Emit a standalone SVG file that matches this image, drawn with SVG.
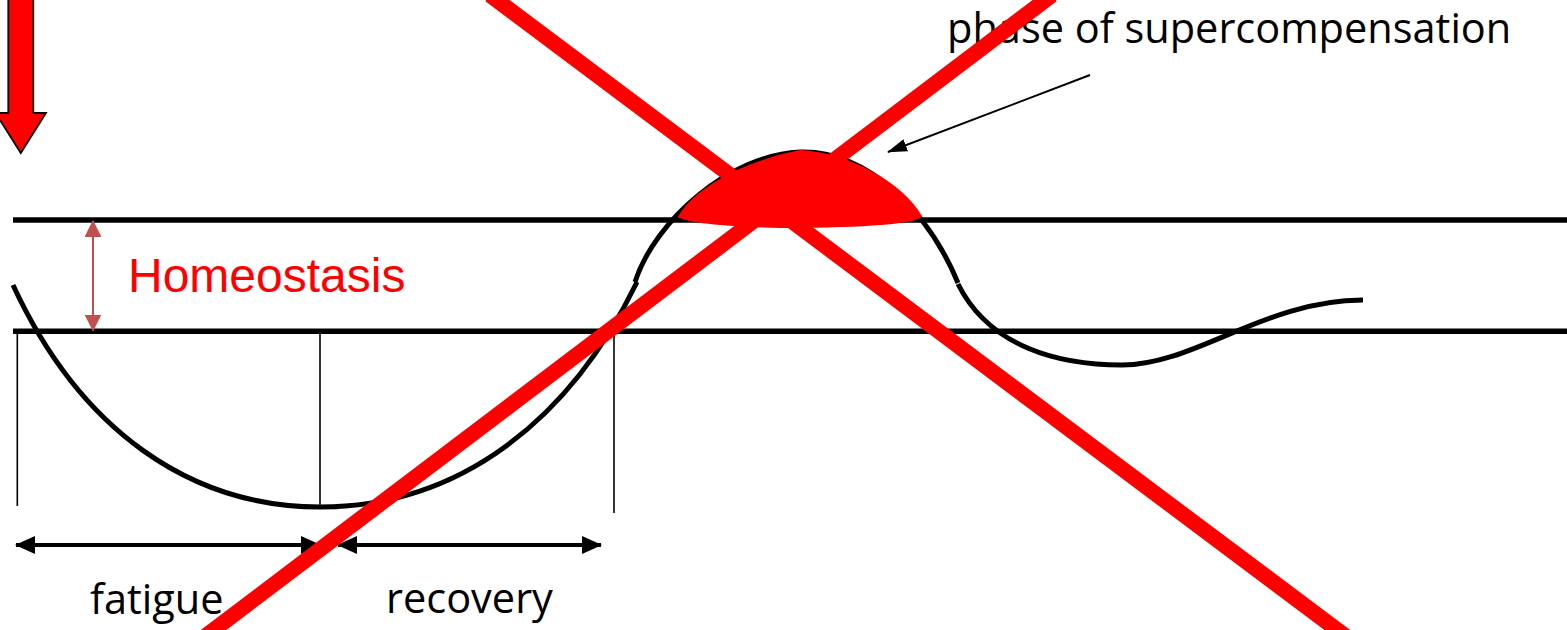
<svg xmlns="http://www.w3.org/2000/svg" width="1567" height="630" viewBox="0 0 1567 630">
<style>
.lbl{font-family:"Open Sans","Liberation Sans",sans-serif;font-size:41.5px;fill:#000}
.hline{stroke:#000;stroke-width:5.4;fill:none}
.vline{stroke:#000;stroke-width:1.6;fill:none}
.curve{stroke:#000;stroke-width:5;fill:none}
.span{stroke:#000;stroke-width:4;fill:none}
.cross{stroke:#FF0000;stroke-width:15.5;fill:none}
</style>
<defs>
<marker id="bh" viewBox="0 0 20 18" refX="19" refY="9" markerWidth="20" markerHeight="18" markerUnits="userSpaceOnUse" orient="auto-start-reverse">
<path d="M0,0 L20,9 L0,18 Z" fill="#000"/>
</marker>
<marker id="rh" viewBox="0 0 17 17" refX="16" refY="8.5" markerWidth="17" markerHeight="17" markerUnits="userSpaceOnUse" orient="auto-start-reverse">
<path d="M0,0 L17,8.5 L0,17 Z" fill="#C0504D"/>
</marker>
<marker id="sh" viewBox="0 0 20 13" refX="19" refY="6.5" markerWidth="20" markerHeight="13" markerUnits="userSpaceOnUse" orient="auto">
<path d="M0,0 L20,6.5 L0,13 Z" fill="#000"/>
</marker>
</defs>
<rect width="1567" height="630" fill="#fff"/>

<g id="baselines">
<line class="hline" x1="13" y1="220" x2="1567" y2="220"/>
<line class="hline" x1="13" y1="331.3" x2="1567" y2="331.3"/>
<line class="vline" x1="17.3" y1="332" x2="17.3" y2="506"/>
<line class="vline" x1="320" y1="332" x2="320" y2="507"/>
<line class="vline" x1="614" y1="332" x2="614" y2="513"/>
</g>

<g id="curve">
<path class="curve" d="M13,285 C80,430 190,507 320,507 C460,507 570,420 637,282"/>
<path class="curve" d="M635,282 C655,220 730,155 800,152 C870,150 930,215 958,283"/>
<path class="curve" d="M958,284 C990,348 1060,365 1122,365 C1195,365 1265,300 1363,300"/>
</g>

<g id="supercomp-blob">
<path d="M678,217 C690,193 735,163 800,150 C850,153 902,182 922,216 C918,223 880,227 800,228 C740,228 690,224 678,217 Z" fill="#FF0000"/>
</g>

<g id="down-arrow">
<polygon points="8.3,-5 33.3,-5 33.3,113 46,113 20.8,153 -4.5,113 8.3,113" fill="#FF0000" stroke="#000" stroke-width="1.8" stroke-linejoin="miter"/>
</g>

<g id="homeostasis">
<line x1="93" y1="221" x2="93" y2="330.5" stroke="#C0504D" stroke-width="2" marker-start="url(#rh)" marker-end="url(#rh)"/>
<text x="128" y="292" style="font-family:'Liberation Sans',Arial,sans-serif;font-size:48px;fill:#FF0000">Homeostasis</text>
</g>

<g id="connectors">
<line class="span" x1="16" y1="545" x2="320" y2="545" marker-start="url(#bh)" marker-end="url(#bh)"/>
<line class="span" x1="338" y1="545" x2="601" y2="545" marker-start="url(#bh)" marker-end="url(#bh)"/>
<line x1="1090" y1="75" x2="888" y2="152" stroke="#000" stroke-width="2" marker-end="url(#sh)"/>
</g>

<g id="label-fatigue"><text class="lbl" x="90" y="614">fatigue</text></g>
<g id="label-recovery"><text class="lbl" x="386" y="613">recovery</text></g>
<g id="label-phase"><text class="lbl" x="947" y="43">phase of supercompensation</text></g>

<g id="red-cross">
<line class="cross" x1="490" y1="-5" x2="1348" y2="638"/>
<line class="cross" x1="1052" y1="-5" x2="203" y2="638"/>
</g>
</svg>
